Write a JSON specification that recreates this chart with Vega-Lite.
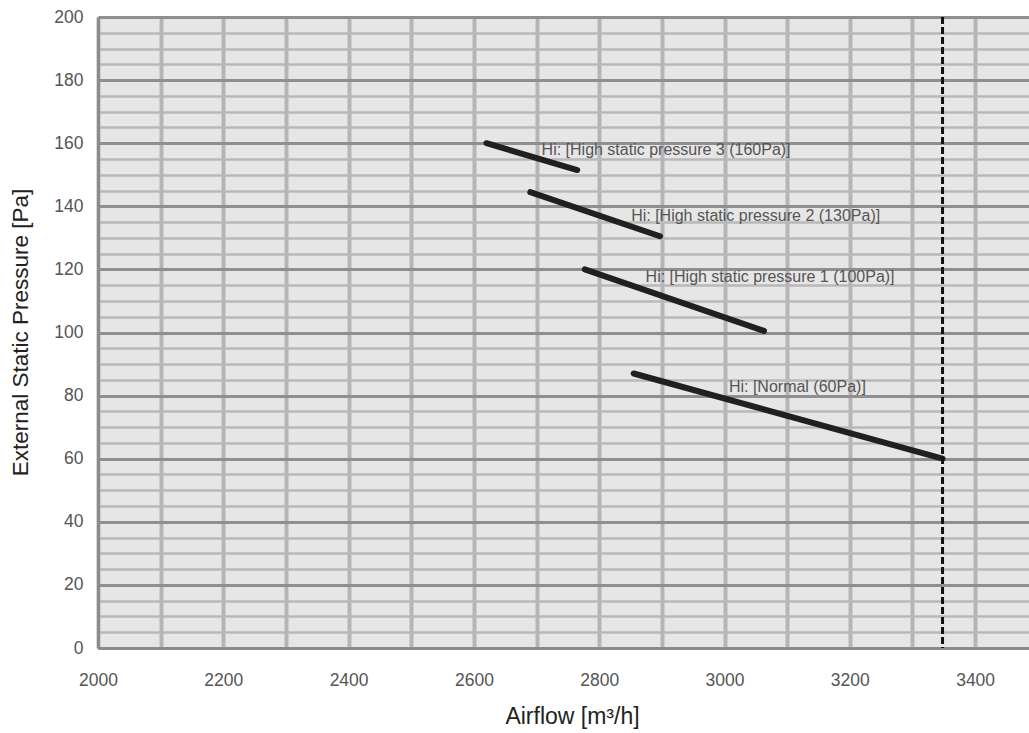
{
  "$schema": "https://vega.github.io/schema/vega-lite/v6.json",
  "width": 931,
  "height": 631,
  "autosize": {"type": "none"},
  "padding": {"left": 98, "top": 17, "right": 0, "bottom": 85},
  "background": "white",
  "config": {
    "view": {"stroke": null, "fill": "#e6e6e6"},
    "font": "Liberation Sans"
  },
  "datasets": {
    "curves": [
      {"setting": "High static pressure 3 (160Pa)", "airflow": 2620, "pressure": 160},
      {"setting": "High static pressure 3 (160Pa)", "airflow": 2765, "pressure": 151.5},
      {"setting": "High static pressure 2 (130Pa)", "airflow": 2690, "pressure": 144.5},
      {"setting": "High static pressure 2 (130Pa)", "airflow": 2897, "pressure": 130.5},
      {"setting": "High static pressure 1 (100Pa)", "airflow": 2777, "pressure": 120},
      {"setting": "High static pressure 1 (100Pa)", "airflow": 3063, "pressure": 100.5},
      {"setting": "Normal (60Pa)", "airflow": 2855, "pressure": 87},
      {"setting": "Normal (60Pa)", "airflow": 3348, "pressure": 60}
    ],
    "limit": [{"airflow": 3348}],
    "labels": [
      {"label": "Hi: [High static pressure 3 (160Pa)]", "airflow": 2708, "pressure": 157.8},
      {"label": "Hi: [High static pressure 2 (130Pa)]", "airflow": 2851, "pressure": 137},
      {"label": "Hi: [High static pressure 1 (100Pa)]", "airflow": 2874, "pressure": 117.7},
      {"label": "Hi: [Normal (60Pa)]", "airflow": 3007, "pressure": 82.8}
    ]
  },
  "layer": [
    {
      "data": {"name": "curves"},
      "mark": {"type": "line", "color": "#231f20", "strokeWidth": 6, "strokeCap": "round"},
      "encoding": {
        "x": {
          "field": "airflow",
          "type": "quantitative",
          "scale": {"domain": [2000, 3486], "nice": false, "zero": false},
          "axis": {
            "values": [2000, 2100, 2200, 2300, 2400, 2500, 2600, 2700, 2800, 2900, 3000, 3100, 3200, 3300, 3400],
            "format": "d",
            "labelExpr": "datum.value % 200 === 0 ? datum.label : ''",
            "labelFontSize": 17.5,
            "labelColor": "#555555",
            "labelPadding": 23,
            "labelFlush": false,
            "labelOverlap": false,
            "ticks": false,
            "tickSize": 0,
            "domain": true,
            "domainColor": "#8c8c8c",
            "domainWidth": 3,
            "grid": true,
            "gridColor": "#b5b5b5",
            "gridWidth": 4,
            "title": "Airflow [m³/h]",
            "titleFontSize": 23,
            "titleFontWeight": "normal",
            "titleColor": "#222222",
            "titleX": 474,
            "titleY": 75,
            "titleAlign": "center",
            "titleBaseline": "alphabetic"
          }
        },
        "y": {
          "field": "pressure",
          "type": "quantitative",
          "scale": {"domain": [0, 200], "nice": false},
          "axis": {
            "values": [0, 5, 10, 15, 20, 25, 30, 35, 40, 45, 50, 55, 60, 65, 70, 75, 80, 85, 90, 95, 100, 105, 110, 115, 120, 125, 130, 135, 140, 145, 150, 155, 160, 165, 170, 175, 180, 185, 190, 195, 200],
            "labelExpr": "datum.value % 20 === 0 ? datum.label : ''",
            "labelFontSize": 17.5,
            "labelColor": "#555555",
            "labelPadding": 15,
            "labelOverlap": false,
            "labelFlush": false,
            "ticks": false,
            "tickSize": 0,
            "domain": true,
            "domainColor": "#8c8c8c",
            "domainWidth": 3,
            "grid": true,
            "gridColor": "#b8b8b8",
            "gridWidth": 2.5,
            "title": "External Static Pressure [Pa]",
            "titleFontSize": 22.5,
            "titleFontWeight": "normal",
            "titleColor": "#222222",
            "titleAngle": 270,
            "titleX": -78,
            "titleY": 315,
            "titleAlign": "center",
            "titleBaseline": "middle"
          }
        },
        "detail": {"field": "setting", "type": "nominal"}
      }
    },
    {
      "data": {"name": "curves"},
      "mark": {"type": "line", "opacity": 0, "strokeWidth": 0},
      "encoding": {
        "x": {"field": "airflow", "type": "quantitative"},
        "y": {
          "field": "pressure",
          "type": "quantitative",
          "scale": {"domain": [0, 200], "nice": false},
          "axis": {
            "orient": "right",
            "values": [0, 20, 40, 60, 80, 100, 120, 140, 160, 180, 200],
            "labels": false,
            "ticks": false,
            "domain": false,
            "title": null,
            "grid": true,
            "gridColor": "#8f8f8f",
            "gridWidth": 3
          }
        },
        "detail": {"field": "setting", "type": "nominal"}
      }
    },
    {
      "data": {"name": "limit"},
      "mark": {"type": "rule", "color": "#111111", "strokeWidth": 3, "strokeDash": [7, 3]},
      "encoding": {
        "x": {"field": "airflow", "type": "quantitative"}
      }
    },
    {
      "data": {"name": "labels"},
      "mark": {"type": "text", "align": "left", "baseline": "middle", "fontSize": 16, "color": "#555555"},
      "encoding": {
        "x": {"field": "airflow", "type": "quantitative"},
        "y": {
          "field": "pressure",
          "type": "quantitative",
          "scale": {"domain": [0, 200], "nice": false},
          "axis": null
        },
        "text": {"field": "label", "type": "nominal"}
      }
    }
  ],
  "resolve": {"scale": {"y": "independent"}, "axis": {"y": "independent"}}
}
